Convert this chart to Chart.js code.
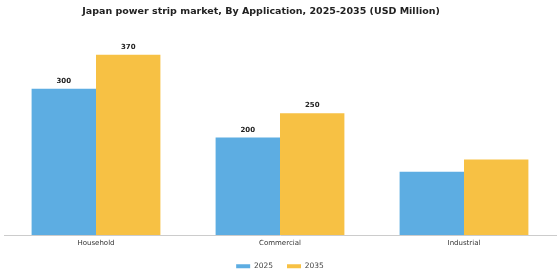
<!DOCTYPE html>
<html>
<head>
<meta charset="utf-8">
<script src="https://cdn.jsdelivr.net/npm/chart.js@4.4.0/dist/chart.umd.min.js"></script>
<style>
  html, body { margin: 0; padding: 0; background: #fff; }
  #wrap { position: relative; width: 560px; height: 280px; }
  #title {
    position: absolute; top: 5px; left: 0; width: 522px;
    text-align: center; font: bold 9.5px "DejaVu Sans", sans-serif; color: #222;
  }
</style>
</head>
<body>
<div id="wrap">
  <div id="title">Japan power strip market, By Application, 2025-2035 (USD Million)</div>
  <canvas id="chart" width="560" height="280"></canvas>
</div>
<script>
// data
const categories = ['Household', 'Commercial', 'Industrial'];
const values2025 = [300, 200, 130];
const values2035 = [370, 250, 155];
const showValue = [true, true, false];

// small plugin for the bold numbers above the bars
const valueLabels = {
    id: 'valueLabels',
    afterDatasetsDraw(chart) {
        const ctx = chart.ctx;
        ctx.save();
        ctx.font = 'bold 7px "DejaVu Sans", sans-serif';
        ctx.fillStyle = '#222';
        ctx.textAlign = 'center';
        ctx.textBaseline = 'bottom';
        chart.data.datasets.forEach((ds, i) => {
            chart.getDatasetMeta(i).data.forEach((bar, j) => {
                if (!showValue[j]) return;
                ctx.fillText(ds.data[j], bar.x, bar.y - 4);
            });
        });
        ctx.restore();
    }
};

new Chart(document.getElementById('chart'), {
    type: 'bar',
    data: {
        labels: categories,
        datasets: [
            { label: '2025', data: values2025, backgroundColor: '#5dade2' },
            { label: '2035', data: values2035, backgroundColor: '#f7c144' }
        ]
    },
    options: {
        responsive: false,
        animation: false,
        layout: { padding: { top: 40, left: 4, right: 4, bottom: 0 } },
        datasets: { bar: { categoryPercentage: 0.7, barPercentage: 1.0 } },
        plugins: {
            title: { display: false },
            tooltip: { enabled: false },
            legend: {
                position: 'bottom',
                labels: {
                    boxWidth: 14,
                    boxHeight: 4,
                    padding: 14,
                    color: '#444',
                    font: { family: '"DejaVu Sans", sans-serif', size: 7.5 }
                }
            }
        },
        scales: {
            x: {
                grid: { drawOnChartArea: false, drawTicks: false },
                border: { color: '#ccc' },
                ticks: {
                    color: '#333',
                    padding: 4,
                    font: { family: '"DejaVu Sans", sans-serif', size: 7 }
                },
                // pull the baseline down a little, labels still fit
                afterFit(scale) { scale.height -= 3; }
            },
            y: {
                display: false,
                min: 0,
                max: 400
            }
        }
    },
    plugins: [valueLabels]
});
</script>
</body>
</html>
